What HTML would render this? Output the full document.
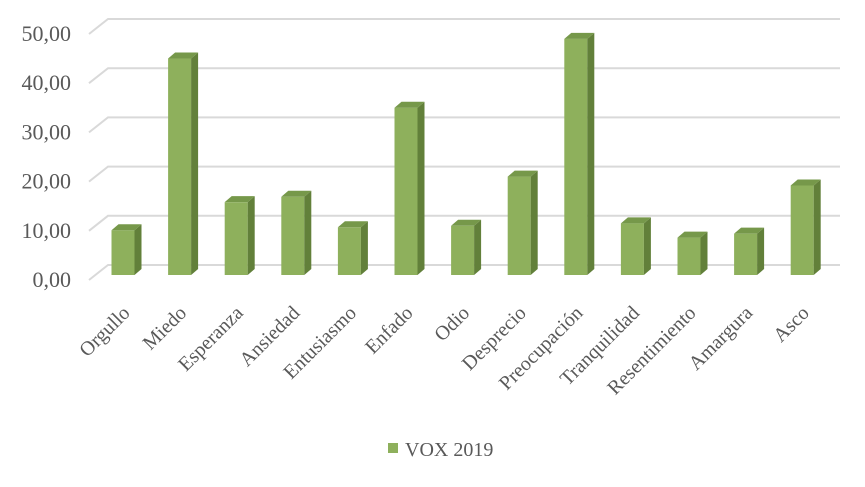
<!DOCTYPE html>
<html><head><meta charset="utf-8"><style>
body{margin:0;background:#fff;}
svg{display:block;font-family:"Liberation Serif",serif;}
</style></head><body>
<svg id="c" width="865" height="487"></svg>
<script>
const categories=["Orgullo","Miedo","Esperanza","Ansiedad","Entusiasmo","Enfado","Odio","Desprecio","Preocupación","Tranquilidad","Resentimiento","Amargura","Asco"];
const values=[9.1,44,14.8,15.9,9.7,34,10,20,48,10.5,7.6,8.4,18.2];
const ticks=[0,10,20,30,40,50];
const tickLabels=["0,00","10,00","20,00","30,00","40,00","50,00"];
const seriesName="VOX 2019";
const NS="http://www.w3.org/2000/svg";
const svg=document.getElementById('c');
const k=4.92;
function y(v,base){return base-v*k;}
function x(i){return 123+i*56.6;}
function mk(t,a,p){const e=document.createElementNS(NS,t);for(const n in a)e.setAttribute(n,a[n]);(p||svg).appendChild(e);return e;}
ticks.forEach((t,i)=>{
  const g=mk('g',{});
  
  
  mk('polyline',{points:`89,${y(t,280)} 108,${y(t,265)} 840,${y(t,265)}`,fill:'none',stroke:'#d9d9d9','stroke-width':2},g);
  const tx=mk('text',{x:71,y:y(t,280)+7,'text-anchor':'end','font-size':22,fill:'#595959'});
  
  
  tx.textContent=tickLabels[i];
});
const w=23,dx=7,dy=6,base=275;
values.forEach((v,i)=>{
  const g=mk('g',{});
  
  
  const l=x(i)-w/2,top=y(v,base);
  mk('rect',{x:l,y:top,width:w,height:base-top,fill:'#8eb05c'},g);
  mk('polygon',{points:`${l+w},${top} ${l+w+dx},${top-dy} ${l+w+dx},${base-dy} ${l+w},${base}`,fill:'#62803a'},g);
  mk('polygon',{points:`${l},${top} ${l+dx},${top-dy} ${l+w+dx},${top-dy} ${l+w},${top}`,fill:'#76984a'},g);
  const ax=x(i)+8,ay=314;
  const t=mk('text',{x:ax,y:ay,'text-anchor':'end','font-size':20,fill:'#595959',transform:`rotate(-45 ${ax} ${ay})`});
  
  
  t.textContent=categories[i];
});
const lg=mk('g',{});


mk('rect',{x:388,y:443,width:10,height:10,fill:'#8eb05c'},lg);
const lt=mk('text',{x:405,y:456,'font-size':20,fill:'#595959'},lg);
lt.textContent=seriesName;
</script>
</body></html>
